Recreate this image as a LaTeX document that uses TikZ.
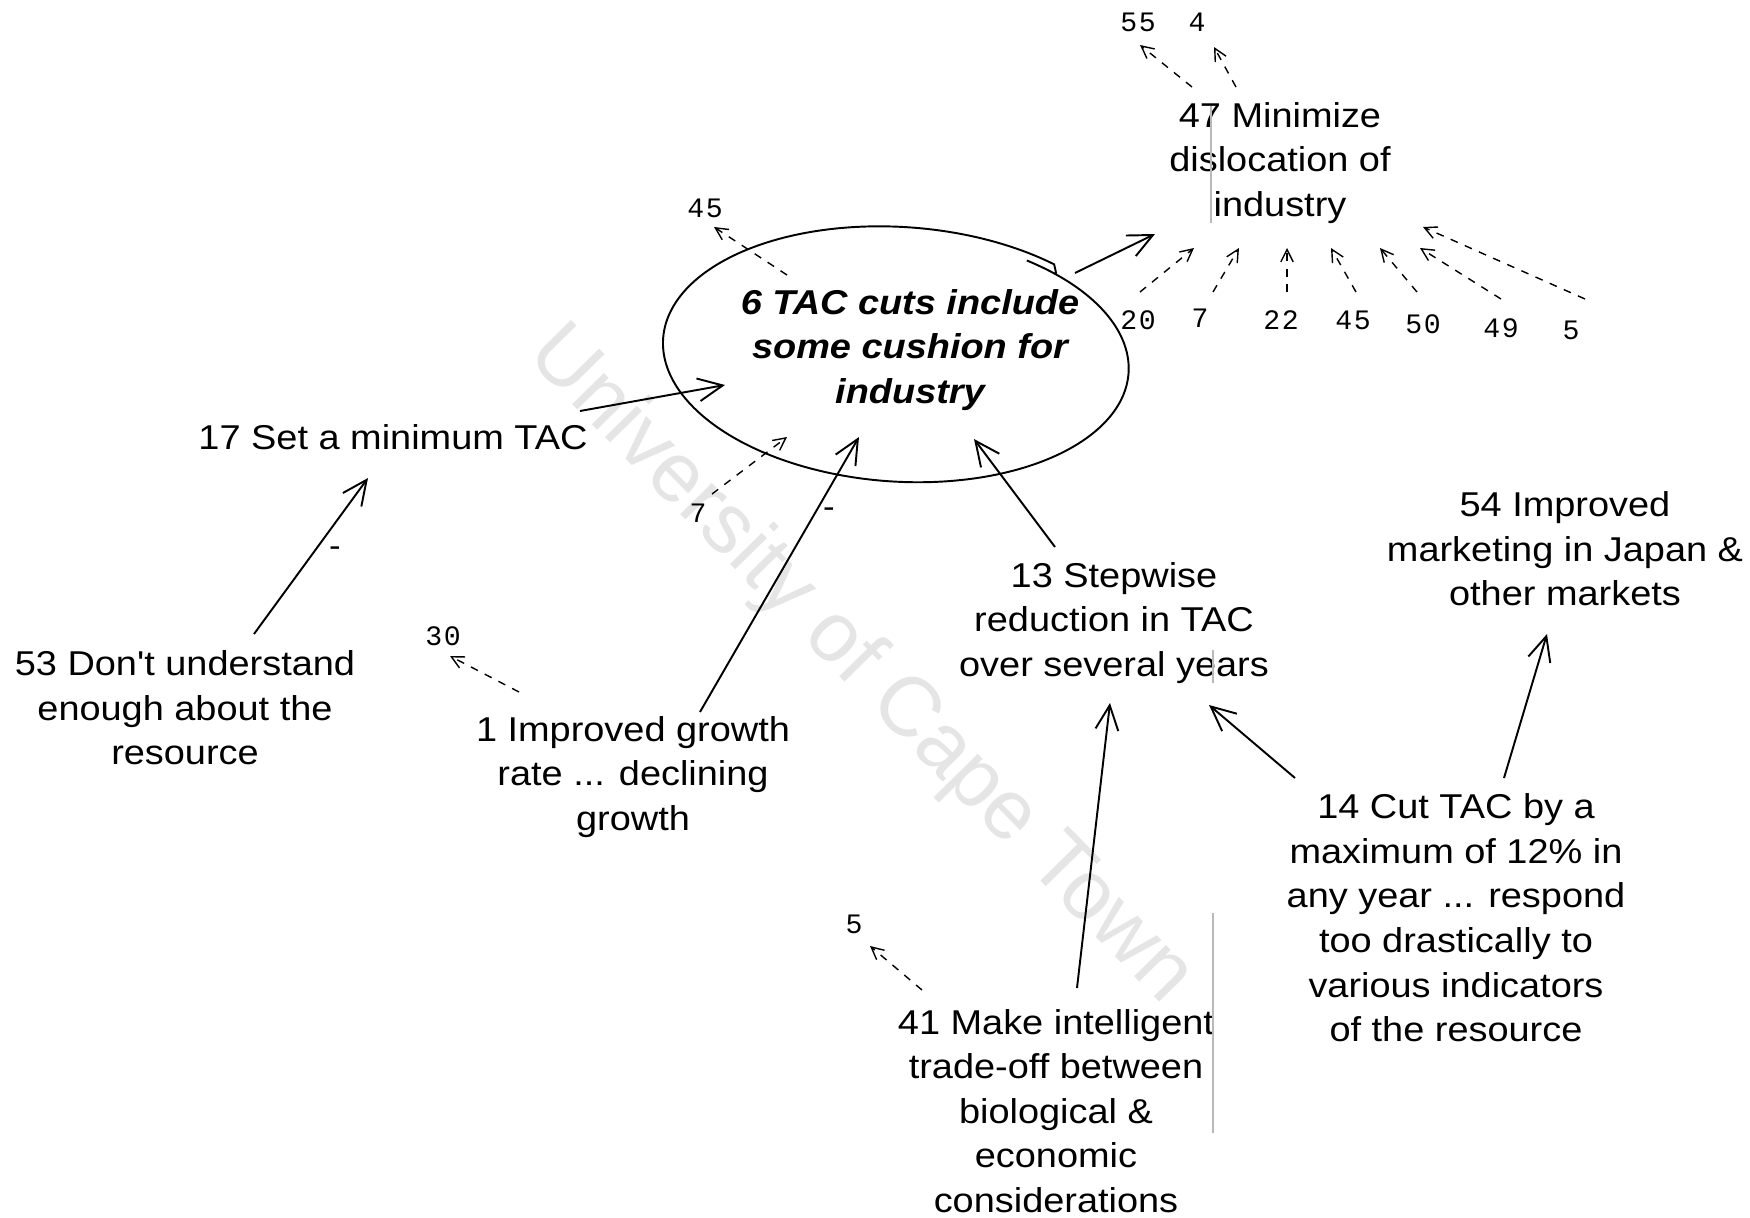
\documentclass[tikz,border=0pt]{standalone}
\usepackage{fontspec}
\usetikzlibrary{arrows.meta,shapes.geometric}
\newfontfamily\lblfont[FakeStretch=1.1]{Liberation Sans}
\newfontfamily\numfont[LetterSpace=6]{Liberation Mono}
\newfontfamily\wmfont{Liberation Sans}

\begin{document}
\begin{tikzpicture}[x=0.01cm,y=-0.01cm,
  lbl/.style={font=\lblfont\fontsize{9.8}{12.7}\selectfont, align=center, inner sep=0pt},
  mainlbl/.style={align=center, inner sep=0pt, font=\lblfont\bfseries\itshape\fontsize{9.8}{12.7}\selectfont},
  num/.style={font=\numfont\fontsize{8}{9}\selectfont, inner sep=0pt},
  sign/.style={font=\lblfont\fontsize{9}{10}\selectfont, inner sep=0pt},
  link/.style={line width=0.55pt, -{Straight Barb[length=7pt,width=6.5pt]}},
  weak/.style={line width=0.4pt, dash pattern=on 2.2pt off 2.2pt, -{Straight Barb[length=3.5pt,width=3.5pt]}},
  artifact/.style={gray!55, line width=0.4pt},
]
\useasboundingbox (0,0) rectangle (1750,1218);
\fill[white] (0,0) rectangle (1750,1218);

% watermark
\node[font=\wmfont\fontsize{24}{28}\selectfont, text=black!10, rotate=-45.5] (wm) at (860,666) {University of Cape Town};

% concept nodes
\node[lbl] (n47) at (1280,163) {47 Minimize\\dislocation of\\industry};
\node[mainlbl, ellipse, minimum width=468, minimum height=252] (n6) at (910,350) {6 TAC cuts include\\some cushion for\\industry};
\node[lbl] (n17) at (393,437) {17 Set a minimum TAC};
\node[lbl] (n53) at (185,708) {53 Don't understand\\enough about the\\resource};
\node[lbl] (n1) at (633,777) {1 Improved growth\\rate ... declining\\growth};
\node[lbl] (n13) at (1114,623) {13 Stepwise\\reduction in TAC\\over several years};
\node[lbl] (n54) at (1565,549) {54 Improved\\marketing in Japan \&\\other markets};
\node[lbl] (n14) at (1456,918) {14 Cut TAC by a\\maximum of 12\% in\\any year ... respond\\too drastically to\\various indicators\\of the resource};
\node[lbl] (n41) at (1056,1111) {41 Make intelligent\\trade-off between\\biological \&\\economic\\considerations};

% hand-drawn outline of the central concept
\draw[line width=0.55pt] plot[domain=0:366, samples=240]
  ({899 + (0.975+0.055*\x/366)*234*cos(58-\x)*cos(4) + (0.975+0.055*\x/366)*126*sin(58-\x)*sin(4)},
   {356 + (0.975+0.055*\x/366)*234*cos(58-\x)*sin(4) - (0.975+0.055*\x/366)*126*sin(58-\x)*cos(4)})
  -- ++(2,9);

% references to concepts on other maps
\node[num] (r55) at (1138,22) {55};
\node[num] (r4) at (1197,22) {4};
\node[num] (r20) at (1138,320) {20};
\node[num] (r7a) at (1200,318) {7};
\node[num] (r22) at (1281,320) {22};
\node[num] (r45a) at (1353,320) {45};
\node[num] (r50) at (1423,324) {50};
\node[num] (r49) at (1501,328) {49};
\node[num] (r5a) at (1571,330) {5};
\node[num] (r45b) at (705,208) {45};
\node[num] (r7b) at (698,513) {7};
\node[num] (r30) at (443,636) {30};
\node[num] (r5b) at (854,924) {5};

% connector end points
\coordinate (a47o1) at (1192,87);  \coordinate (a55i) at (1140,45);
\coordinate (a47o2) at (1236,87);  \coordinate (a4i) at (1214,47);
\coordinate (a20o) at (1140,292);  \coordinate (a47i1) at (1194,248);
\coordinate (a7o) at (1213,292);   \coordinate (a47i2) at (1239,248);
\coordinate (a22o) at (1287,292);  \coordinate (a47i3) at (1287,248);
\coordinate (a45o) at (1356,292);  \coordinate (a47i4) at (1331,248);
\coordinate (a50o) at (1417,292);  \coordinate (a47i5) at (1380,248);
\coordinate (a49o) at (1501,299);  \coordinate (a47i6) at (1420,248);
\coordinate (a5o) at (1585,299);   \coordinate (a47i7) at (1423,227);
\coordinate (a6o1) at (787,275);   \coordinate (a45i) at (714,227);
\coordinate (a7bo) at (712,494);   \coordinate (a6i1) at (787,437);
\coordinate (a1o1) at (519,692);   \coordinate (a30i) at (450,656);
\coordinate (a41o1) at (922,990);  \coordinate (a5bi) at (870,946);

\coordinate (a6o2) at (1075,273);  \coordinate (a47i0) at (1155,234);
\coordinate (a17o) at (580,411);   \coordinate (a6i2) at (725,385);
\coordinate (a53o) at (254,634);   \coordinate (a17i) at (368,478);
\coordinate (a1o2) at (700,712);   \coordinate (a6i3) at (859,437);
\coordinate (a13o) at (1055,547);  \coordinate (a6i4) at (974,439);
\coordinate (a41o2) at (1077,988); \coordinate (a13i1) at (1110,703);
\coordinate (a14o1) at (1295,778); \coordinate (a13i2) at (1209,705);
\coordinate (a14o2) at (1504,778); \coordinate (a54i) at (1547,634);

% weak links to other maps
\draw[weak] (a47o1) -- (a55i);
\draw[weak] (a47o2) -- (a4i);
\draw[weak] (a20o) -- (a47i1);
\draw[weak] (a7o) -- (a47i2);
\draw[weak] (a22o) -- (a47i3);
\draw[weak] (a45o) -- (a47i4);
\draw[weak] (a50o) -- (a47i5);
\draw[weak] (a49o) -- (a47i6);
\draw[weak] (a5o) -- (a47i7);
\draw[weak] (a6o1) -- (a45i);
\draw[weak] (a7bo) -- (a6i1);
\draw[weak] (a1o1) -- (a30i);
\draw[weak] (a41o1) -- (a5bi);

% causal links
\draw[link] (a6o2) -- (a47i0);
\draw[link] (a17o) -- (a6i2);
\draw[link] (a53o) -- (a17i);
\draw[link] (a1o2) -- (a6i3);
\draw[link] (a13o) -- (a6i4);
\draw[link] (a41o2) -- (a13i1);
\draw[link] (a14o1) -- (a13i2);
\draw[link] (a14o2) -- (a54i);

% negative signs on links
\node[sign] (s1) at (335,552) {-};
\node[sign] (s2) at (829,513) {-};

% faint vertical rules
\draw[artifact] (1211,106) -- (1211,223);
\draw[artifact] (1213,650) -- (1213,683);
\draw[artifact] (1213,913) -- (1213,1133);
\end{tikzpicture}
\end{document}
